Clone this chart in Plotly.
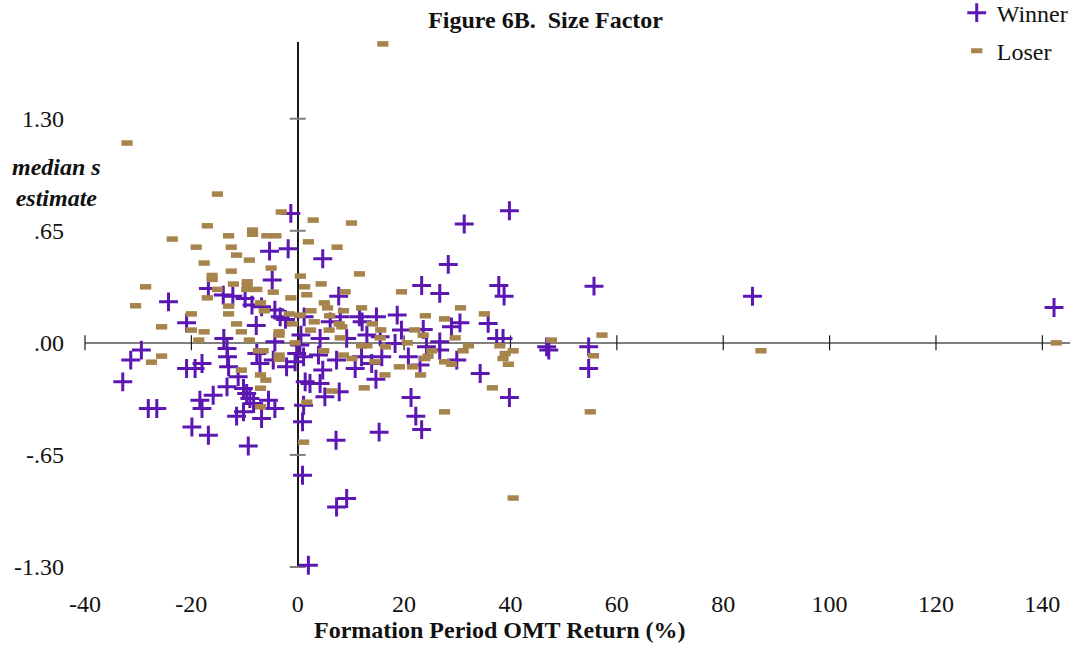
import plotly.graph_objects as go

# ---- data ----
winner_x = [-1.3, -5.3, -1.8, -4.8, -16.8, -14.0, -12.2, -9.9, -8.6, -6.8,
            -24.3, -4.3, -3.3, -2.3, 1.2, -20.9, -7.8, 0.6, -13.9, -4.3,
            39.8, 31.3, 4.7, 28.3, 23.3, 26.7, 37.8, 38.8, 7.7, 18.7,
            11.6, 12.1, 14.8, 8.0, 6.1, 4.2, 9.2, 13.0, 15.5, 19.5,
            23.6, 28.9, 30.5, 35.8, 26.7, 37.4, 38.6, 46.8, 18.3, -29.4,
            -31.4, -32.9, -28.1, -26.5, -20.9, -19.3, -18.0, -18.4, -18.0, -15.9,
            -13.3, -19.9, -16.8, -9.3, -13.3, -13.2, -13.0, -7.7, -7.1, -4.6,
            -2.1, -0.2, 1.1, -11.2, -10.2, -9.6, -9.0, -8.3, -5.5, -4.3,
            -6.8, -11.5, -10.2, 1.4, 1.1, 0.9, 0.9, 0.4, -0.5, 3.9,
            7.3, 10.8, 12.0, 13.9, 15.8, 20.8, 23.0, 26.7, 29.9, 14.7,
            4.7, 2.3, 4.2, 5.1, 7.8, 21.3, 22.2, 23.3, 15.3, 7.2,
            34.3, 39.8, 7.3, 9.2, 24.2, 142.2, 85.5, 54.7, 54.7, 47.2,
            55.7, 2.0]
winner_y = [0.751, 0.532, 0.546, 0.364, 0.316, 0.277, 0.271, 0.258, 0.219, 0.209,
            0.238, 0.190, 0.151, 0.136, 0.151, 0.116, 0.101, 0.045, 0.026, 0.006,
            0.766, 0.689, 0.488, 0.455, 0.333, 0.287, 0.333, 0.271, 0.271, 0.161,
            0.151, 0.122, 0.151, 0.151, 0.122, 0.026, 0.026, 0.045, 0.035, 0.074,
            0.078, 0.093, 0.116, 0.113, 0.006, 0.026, 0.026, -0.023, -0.004, -0.042,
            -0.100, -0.226, -0.381, -0.381, -0.149, -0.149, -0.120, -0.333, -0.381, -0.304,
            -0.255, -0.488, -0.536, -0.598, -0.033, -0.081, -0.139, -0.062, -0.120, -0.100,
            -0.139, -0.062, -0.081, -0.197, -0.265, -0.294, -0.323, -0.352, -0.333, -0.381,
            -0.439, -0.425, -0.400, -0.226, -0.362, -0.458, -0.768, -0.013, -0.110, -0.071,
            -0.100, -0.149, -0.081, -0.120, -0.081, -0.081, -0.129, -0.042, -0.100, -0.211,
            -0.158, -0.236, -0.236, -0.313, -0.284, -0.317, -0.425, -0.503, -0.518, -0.565,
            -0.178, -0.317, -0.952, -0.903, -0.023, 0.205, 0.270, -0.023, -0.149, -0.042,
            0.329, -1.290]

loser_x = [-15.1, -3.1, -17.0, -23.6, -13.0, -8.5, -8.5, -5.8, -4.1, -19.1,
           -12.5, -11.5, -9.1, -17.6, -12.5, -5.0, -16.1, -16.1, -12.1, -9.5,
           -9.5, -9.6, -7.7, -28.6, -15.1, -4.6, 0.5, 1.3, 1.7, -1.3,
           -17.0, -30.5, -13.0, -7.0, -6.3, -13.0, -20.0, -1.6, 0.4, -25.6,
           -11.5, -1.0, -20.0, -17.6, -10.6, -3.5, -3.5, -18.6, -9.1, -0.5,
           2.9, 10.1, 2.0, 7.4, 11.6, 4.4, 8.9, 19.5, 5.0, 5.6,
           8.6, 12.0, 2.5, 30.6, 6.0, 24.0, 27.6, 35.1, 3.1, 7.8,
           8.3, 14.0, 15.6, 5.9, 2.4, 22.0, 23.6, 29.6, 8.0, 15.5,
           20.6, 12.0, 13.0, 16.5, 32.1, 38.0, 47.7, -25.6, -27.5, -7.4,
           -6.5, -3.5, -3.5, -10.6, -7.0, -6.0, -7.0, -7.0, 1.7, 1.1,
           4.9, 8.6, 10.2, 14.5, 19.1, 21.6, 16.4, 23.1, 24.5, 23.9,
           25.2, 27.6, 28.9, 31.1, 39.0, 38.6, 40.5, 39.6, 12.5, 6.4,
           36.6, 27.6, 40.5, 16.0, -32.1, 57.2, 55.6, 55.0, 87.1, 142.6]
loser_y = [0.863, 0.759, 0.679, 0.602, 0.621, 0.654, 0.630, 0.621, 0.621, 0.555,
           0.555, 0.509, 0.480, 0.463, 0.416, 0.434, 0.391, 0.368, 0.341, 0.354,
           0.331, 0.310, 0.310, 0.325, 0.310, 0.294, 0.387, 0.325, 0.279, 0.261,
           0.261, 0.215, 0.213, 0.232, 0.186, 0.168, 0.168, 0.168, 0.161, 0.093,
           0.110, 0.110, 0.074, 0.064, 0.064, 0.064, 0.045, 0.016, 0.016, 0.000,
           0.712, 0.695, 0.586, 0.555, 0.400, 0.342, 0.296, 0.296, 0.232, 0.203,
           0.186, 0.203, 0.186, 0.203, 0.157, 0.157, 0.139, 0.168, 0.122, 0.110,
           0.093, 0.110, 0.075, 0.074, 0.074, 0.075, 0.045, 0.029, 0.029, 0.029,
           0.000, -0.017, -0.017, -0.023, -0.017, -0.017, 0.016, -0.077, -0.112, -0.046,
           -0.046, -0.071, -0.095, -0.158, -0.186, -0.216, -0.263, -0.371, -0.344, -0.576,
           -0.046, -0.071, -0.091, -0.110, -0.139, -0.139, -0.186, -0.186, -0.077, -0.091,
           -0.046, -0.110, -0.124, -0.046, -0.062, -0.091, -0.046, -0.124, -0.261, -0.279,
           -0.261, -0.400, -0.900, 1.734, 1.159, 0.045, -0.075, -0.400, -0.046, 0.000]

x_tick_vals = [-40, -20, 0, 20, 40, 60, 80, 100, 120, 140]
x_tick_text = ["-40", "-20", "0", "20", "40", "60", "80", "100", "120", "140"]
y_tick_vals = [-1.30, -0.65, 0.0, 0.65, 1.30]
y_tick_text = ["-1.30", "-.65", ".00", ".65", "1.30"]

FONT = "Times New Roman, Liberation Serif, serif"
WIN_COLOR = "#5c17b3"
LOSE_COLOR = "#a6844b"
TXT = "#111111"

fig = go.Figure()

# tick marks crossing the axes at zero
fig.add_trace(go.Scatter(
    x=[0] * len(y_tick_vals), y=y_tick_vals, mode="markers",
    marker=dict(symbol="line-ew", size=11.4, line=dict(width=2, color="#7f7f7f")),
    showlegend=False, hoverinfo="skip", cliponaxis=False))
fig.add_trace(go.Scatter(
    x=x_tick_vals, y=[0] * len(x_tick_vals), mode="markers",
    marker=dict(symbol="line-ns", size=10.7, line=dict(width=1.2, color="#1a1a1a")),
    showlegend=False, hoverinfo="skip", cliponaxis=False))

fig.add_trace(go.Scatter(
    x=winner_x, y=winner_y, mode="markers", name="Winner",
    legendgroup="w",
    marker=dict(symbol="cross-thin", size=13.5, color=WIN_COLOR,
                line=dict(width=3, color=WIN_COLOR)),
    cliponaxis=False))
fig.add_trace(go.Scatter(
    x=loser_x, y=loser_y, mode="markers", name="Loser",
    legendgroup="l",
    marker=dict(symbol="line-ew", size=8, color=LOSE_COLOR,
                line=dict(width=5.5, color=LOSE_COLOR)),
    cliponaxis=False))

fig.update_layout(
    width=1089, height=645, autosize=False,
    margin=dict(l=85, r=19, t=42, b=78, autoexpand=False),
    paper_bgcolor="white", plot_bgcolor="white",
    font=dict(family=FONT, size=24, color=TXT),
    title=dict(text="<b>Figure 6B.\u00a0 Size Factor</b>", x=0.501, xref="container",
               y=0.969, yref="container", xanchor="center", yanchor="middle",
               font=dict(family=FONT, size=24, color=TXT)),
    xaxis=dict(range=[-40, 145.2], showgrid=False, showline=False,
               zeroline=True, zerolinecolor="#1a1a1a", zerolinewidth=1.5,
               tickmode="array", tickvals=x_tick_vals, ticktext=x_tick_text,
               ticks="", ticklabelstandoff=20,
               tickfont=dict(family=FONT, size=24, color=TXT)),
    yaxis=dict(range=[-1.30, 1.745], showgrid=False, showline=False,
               zeroline=True, zerolinecolor="#7f7f7f", zerolinewidth=2,
               tickmode="array", tickvals=y_tick_vals, ticktext=y_tick_text,
               ticks="", ticklabelstandoff=20,
               tickfont=dict(family=FONT, size=24, color=TXT)),
    legend=dict(x=0.885, y=1.098, xanchor="left", yanchor="top",
                bgcolor="rgba(0,0,0,0)", font=dict(family=FONT, size=24, color=TXT),
                traceorder="grouped", tracegroupgap=4, itemsizing="trace"),
    annotations=[
        dict(text="<b>Formation Period OMT Return (%)</b>", xref="paper", yref="paper",
             x=0.421, y=-0.1483, xanchor="center", yanchor="bottom", showarrow=False,
             font=dict(family=FONT, size=24, color=TXT)),
        dict(text="<b><i>median s</i></b><br><b><i>estimate</i></b>", xref="paper", yref="paper",
             x=-0.0294, y=0.733, xanchor="center", yanchor="middle", showarrow=False,
             align="center", font=dict(family=FONT, size=24, color=TXT)),
    ],
)

fig.write_html("out.html")
